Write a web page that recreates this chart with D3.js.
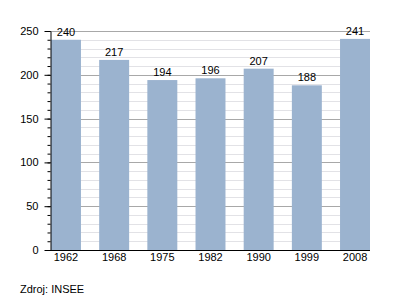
<!DOCTYPE html>
<html>
<head>
<meta charset="utf-8">
<script src="https://cdn.jsdelivr.net/npm/d3@7"></script>
<style>
  body { margin: 0; background: #fff; }
  text { font-family: "Liberation Sans", Arial, sans-serif; }
</style>
</head>
<body>
<div id="chart"></div>
<script>
// population by census year
const years = ["1962", "1968", "1975", "1982", "1990", "1999", "2008"];
const population = [240, 217, 194, 196, 207, 188, 241];
const majorTicks = [0, 50, 100, 150, 200, 250];
const minorTicks = d3.range(0, 251, 10);

const width = 400, height = 300;
const plotLeft = 50, plotRight = 370, plotTop = 31, plotBottom = 250;

const svg = d3.select("#chart")
    .append("svg")
    .attr("width", width)
    .attr("height", height);

const x = d3.scaleBand()
    .domain(years)
    .range([plotLeft + 1, plotRight])
    .paddingInner(0.378)
    .paddingOuter(0);

const y = d3.scaleLinear()
    .domain([0, 250])
    .range([plotBottom, plotTop]);

// minor grid
svg.append("g")
    .selectAll("line")
    .data(minorTicks.filter(d => d % 50 !== 0))
    .enter()
    .append("line")
    .attr("x1", plotLeft).attr("x2", plotRight)
    .attr("y1", d => Math.round(y(d)) + 0.5)
    .attr("y2", d => Math.round(y(d)) + 0.5)
    .style("stroke", "#e2e2e6");

// major grid
svg.append("g")
    .selectAll("line")
    .data(majorTicks.filter(d => d > 0))
    .enter()
    .append("line")
    .attr("x1", plotLeft).attr("x2", plotRight)
    .attr("y1", d => Math.round(y(d)) + 0.5)
    .attr("y2", d => Math.round(y(d)) + 0.5)
    .style("stroke", "#a8a8a8");

// bars
svg.append("g")
    .selectAll("rect")
    .data(population)
    .enter()
    .append("rect")
    .attr("x", (d, i) => x(years[i]))
    .attr("width", x.bandwidth())
    .attr("y", d => y(d))
    .attr("height", d => y(0) - y(d))
    .style("fill", "#9bb3cf");

// value labels
svg.append("g")
    .selectAll("text")
    .data(population)
    .enter()
    .append("text")
    .attr("x", (d, i) => x(years[i]) + x.bandwidth() / 2)
    .attr("y", d => y(d) - 4)
    .attr("text-anchor", "middle")
    .style("font-size", "11px")
    .style("fill", "#000")
    .text(d => d);

// y axis with minor ticks
const yMinor = svg.append("g")
    .attr("transform", `translate(${plotLeft + 0.5},0)`)
    .call(d3.axisLeft(y).tickValues(minorTicks).tickSize(3).tickFormat(""));
yMinor.select(".domain").remove();

svg.append("g")
    .attr("transform", `translate(${plotLeft + 0.5},0)`)
    .call(d3.axisLeft(y).tickValues(majorTicks).tickSize(6).tickSizeOuter(0).tickPadding(6))
    .call(g => g.selectAll("text").style("font-size", "11px").style("fill", "#000").style("font-family", "Liberation Sans, Arial, sans-serif"));

// x axis
svg.append("g")
    .attr("transform", `translate(0,${plotBottom + 0.5})`)
    .call(d3.axisBottom(x).tickSize(0).tickSizeOuter(0).tickPadding(3))
    .call(g => g.select(".domain").attr("d", `M${plotLeft},0H${plotRight}`))
    .call(g => g.selectAll("text").style("font-size", "11px").style("fill", "#000").style("font-family", "Liberation Sans, Arial, sans-serif"));

// source
svg.append("text")
    .attr("x", 20)
    .attr("y", 293)
    .style("font-size", "11px")
    .style("fill", "#000")
    .text("Zdroj: INSEE");
</script>
</body>
</html>
